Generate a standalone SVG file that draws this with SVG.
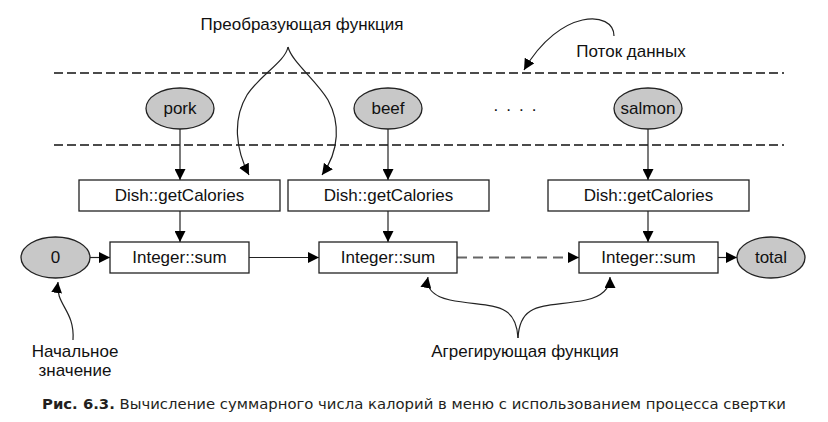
<svg xmlns="http://www.w3.org/2000/svg" width="828" height="422" viewBox="0 0 828 422">
<defs>
<marker id="ah" viewBox="0 0 10 10" refX="10" refY="5" markerWidth="11" markerHeight="11" markerUnits="userSpaceOnUse" orient="auto">
<path d="M0,0 L10,5 L0,10 Z" fill="#000"/>
</marker>
<style>
.t{font-family:"Liberation Sans",Arial,sans-serif;font-size:17px;fill:#111;}
.m{text-anchor:middle;}
.box{fill:#fff;stroke:#222;stroke-width:1.3;}
.ell{fill:#c8c8c8;stroke:#222;stroke-width:1.3;}
.ln{fill:none;stroke:#222;stroke-width:1.2;}
.dash{fill:none;stroke:#111;stroke-width:1.3;stroke-dasharray:9 4;}
.cap{font-family:"DejaVu Sans",Verdana,sans-serif;font-size:14.85px;fill:#231f20;}
</style>
</defs>
<rect width="828" height="422" fill="#fff"/>
<line class="dash" x1="54" y1="73" x2="784" y2="73"/>
<line class="dash" x1="54" y1="145" x2="784" y2="145"/>
<g id="connectors">
<line class="ln" x1="180" y1="129" x2="180" y2="180" marker-end="url(#ah)"/>
<line class="ln" x1="388" y1="129" x2="388" y2="180" marker-end="url(#ah)"/>
<line class="ln" x1="648" y1="129" x2="648" y2="180" marker-end="url(#ah)"/>
<line class="ln" x1="180" y1="211" x2="180" y2="242" marker-end="url(#ah)"/>
<line class="ln" x1="388" y1="211" x2="388" y2="242" marker-end="url(#ah)"/>
<line class="ln" x1="648" y1="211" x2="648" y2="242" marker-end="url(#ah)"/>
<line class="ln" x1="90" y1="257.5" x2="110" y2="257.5" marker-end="url(#ah)"/>
<line class="ln" x1="249" y1="257.5" x2="319" y2="257.5" marker-end="url(#ah)"/>
<line x1="457" y1="257.5" x2="569" y2="257.5" stroke="#666" stroke-width="2" stroke-dasharray="10 6"/>
<line class="ln" x1="569" y1="257.5" x2="579" y2="257.5" stroke="none" marker-end="url(#ah)"/>
<line class="ln" x1="718" y1="257.5" x2="737" y2="257.5" marker-end="url(#ah)"/>
<path class="ln" d="M288,47 C285,62 260,75 247,95 C232,120 236,150 249,175" marker-end="url(#ah)"/>
<path class="ln" d="M288,47 C292,62 316,80 328,100 C340,122 340,150 322,175" marker-end="url(#ah)"/>
<path class="ln" d="M614,36 C614,10 560,8 524,70" marker-end="url(#ah)"/>
<path class="ln" d="M518,338 C516,300 490,308 450,300 C432,296 426,287 428,277" marker-end="url(#ah)"/>
<path class="ln" d="M518,338 C520,300 546,308 586,300 C604,296 610,287 610,277" marker-end="url(#ah)"/>
<path class="ln" d="M73,340 C75,310 55,305 58,282" marker-end="url(#ah)"/>
</g>
<g id="pork"><ellipse class="ell" cx="180" cy="108.5" rx="34" ry="20.5"/><text class="t m" x="180" y="114">pork</text></g>
<g id="beef"><ellipse class="ell" cx="388" cy="108.5" rx="34" ry="20.5"/><text class="t m" x="388" y="114">beef</text></g>
<g id="dots"><text class="t m" x="519" y="111" letter-spacing="8">....</text></g>
<g id="salmon"><ellipse class="ell" cx="648" cy="108.5" rx="34" ry="20.5"/><text class="t m" x="648" y="114">salmon</text></g>
<g id="map1"><rect class="box" x="79" y="180" width="201" height="31"/><text class="t m" x="179.5" y="201">Dish::getCalories</text></g>
<g id="map2"><rect class="box" x="288" y="180" width="201" height="31"/><text class="t m" x="388.5" y="201">Dish::getCalories</text></g>
<g id="map3"><rect class="box" x="548" y="180" width="201" height="31"/><text class="t m" x="648.5" y="201">Dish::getCalories</text></g>
<g id="zero"><ellipse class="ell" cx="55.5" cy="257.5" rx="34.5" ry="20.5"/><text class="t m" x="55.5" y="263">0</text></g>
<g id="sum1"><rect class="box" x="110" y="242" width="139" height="31"/><text class="t m" x="179.5" y="263">Integer::sum</text></g>
<g id="sum2"><rect class="box" x="319" y="242" width="138" height="31"/><text class="t m" x="388" y="263">Integer::sum</text></g>
<g id="sum3"><rect class="box" x="579" y="242" width="139" height="31"/><text class="t m" x="648.5" y="263">Integer::sum</text></g>
<g id="total"><ellipse class="ell" cx="771" cy="257.5" rx="34" ry="20.5"/><text class="t m" x="771" y="263">total</text></g>
<g id="labels">
<text class="t m" x="302" y="30">Преобразующая функция</text>
<text class="t m" x="631" y="57">Поток данных</text>
<text class="t m" x="75" y="357">Начальное</text>
<text class="t m" x="75" y="376">значение</text>
<text class="t m" x="525" y="357">Агрегирующая функция</text>
</g>
<text class="cap" x="42" y="409"><tspan font-weight="bold">Рис. 6.3.</tspan> Вычисление суммарного числа калорий в меню с использованием процесса свертки</text>
</svg>
